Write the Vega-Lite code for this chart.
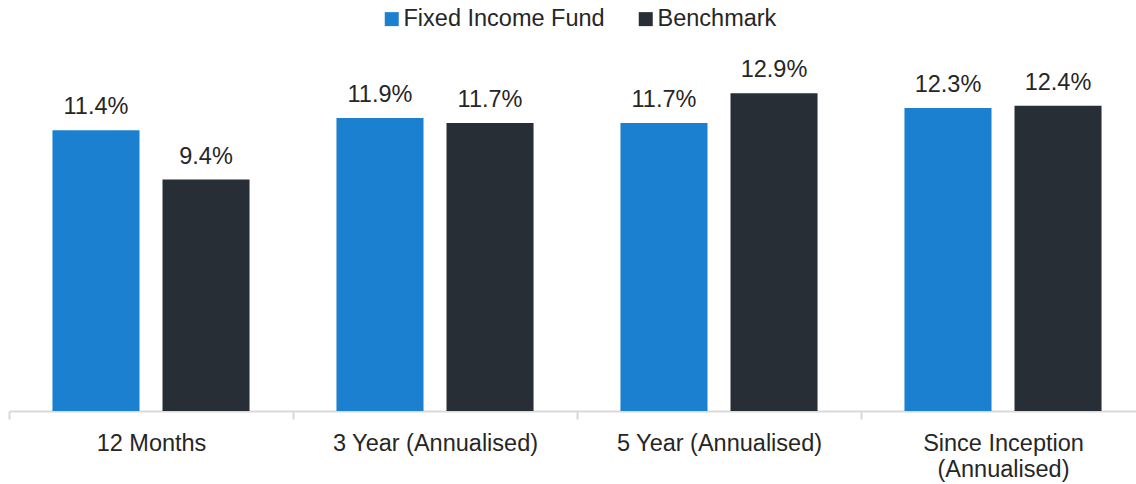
{
  "$schema": "https://vega.github.io/schema/vega-lite/v6.json",
  "width": 1136,
  "height": 394,
  "autosize": {"type": "none"},
  "padding": {"left": 9, "top": 17, "right": 0, "bottom": 73},
  "background": "white",
  "config": {
    "view": {"stroke": null},
    "font": "Liberation Sans",
    "text": {"font": "Liberation Sans"}
  },
  "data": {
    "values": [
      {"period": "12 Months", "series": "Fixed Income Fund", "value": 11.4},
      {"period": "12 Months", "series": "Benchmark", "value": 9.4},
      {"period": "3 Year (Annualised)", "series": "Fixed Income Fund", "value": 11.9},
      {"period": "3 Year (Annualised)", "series": "Benchmark", "value": 11.7},
      {"period": "5 Year (Annualised)", "series": "Fixed Income Fund", "value": 11.7},
      {"period": "5 Year (Annualised)", "series": "Benchmark", "value": 12.9},
      {"period": "Since Inception (Annualised)", "series": "Fixed Income Fund", "value": 12.3},
      {"period": "Since Inception (Annualised)", "series": "Benchmark", "value": 12.4}
    ]
  },
  "transform": [
    {"calculate": "format(datum.value, '.1f') + '%'", "as": "label"}
  ],
  "encoding": {
    "x": {
      "field": "period",
      "type": "nominal",
      "sort": null,
      "title": null,
      "scale": {"paddingInner": 0, "paddingOuter": 0},
      "axis": {
        "orient": "bottom",
        "labelAngle": 0,
        "labelFontSize": 23.5,
        "labelColor": "#262626",
        "labelFont": "Liberation Sans",
        "labelPadding": 12,
        "labelLineHeight": 26,
        "labelLimit": 400,
        "labelOverlap": false,
        "labelExpr": "datum.label == 'Since Inception (Annualised)' ? ['Since Inception', '(Annualised)'] : datum.label",
        "domainColor": "#d9d9d9",
        "domainWidth": 2,
        "tickColor": "#d9d9d9",
        "tickWidth": 2,
        "tickSize": 8,
        "tickBand": "extent",
        "grid": false
      }
    },
    "xOffset": {
      "field": "series",
      "type": "nominal",
      "sort": ["Fixed Income Fund", "Benchmark"],
      "scale": {"paddingInner": 0.209, "paddingOuter": 0.395}
    },
    "y": {
      "field": "value",
      "type": "quantitative",
      "scale": {"domain": [0, 16]},
      "axis": null
    }
  },
  "layer": [
    {
      "mark": {"type": "bar"},
      "encoding": {
        "color": {
          "field": "series",
          "type": "nominal",
          "sort": ["Fixed Income Fund", "Benchmark"],
          "scale": {"domain": ["Fixed Income Fund", "Benchmark"], "range": ["#1b80cf", "#282e35"]},
          "legend": {
            "title": null,
            "orient": "none",
            "legendX": 371,
            "legendY": -10,
            "direction": "horizontal",
            "symbolType": "square",
            "symbolSize": 196,
            "symbolStrokeWidth": 0,
            "labelFontSize": 23.5,
            "labelFont": "Liberation Sans",
            "labelColor": "#262626",
            "labelOffset": 0,
            "labelLimit": 400,
            "columnPadding": 29
          }
        }
      }
    },
    {
      "mark": {"type": "text", "baseline": "alphabetic", "dy": -16, "fontSize": 23.5, "color": "#262626"},
      "encoding": {
        "text": {"field": "label", "type": "nominal"},
        "detail": {"field": "series"}
      }
    }
  ]
}
